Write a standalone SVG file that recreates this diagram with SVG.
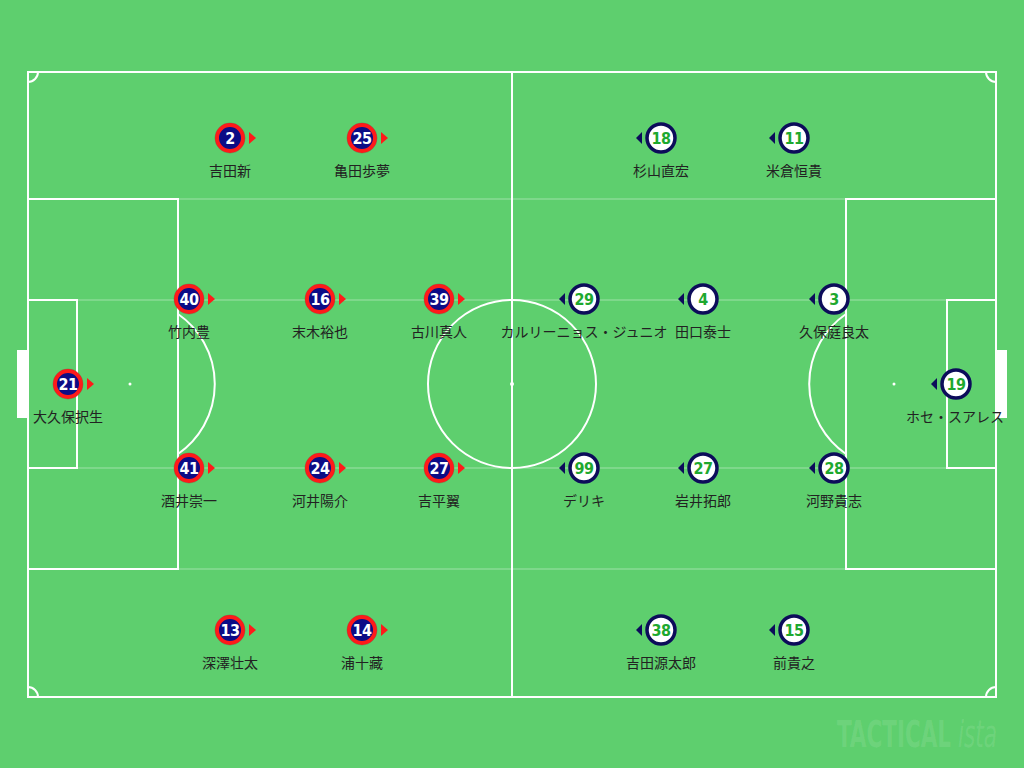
<svg xmlns="http://www.w3.org/2000/svg" width="1024" height="768" viewBox="0 0 1024 768">
<defs>
<style>
.line{fill:none;stroke:#ffffff;stroke-width:2}
.faint{stroke:#ffffff;stroke-opacity:0.2;stroke-width:2}
.name{font-family:"Noto Sans CJK JP","Noto Sans",sans-serif;font-size:14px;fill:#222;text-anchor:middle}
.num{font-family:"DejaVu Sans Condensed","DejaVu Sans",sans-serif;font-stretch:condensed;font-size:16px;font-weight:bold;letter-spacing:-0.5px;text-anchor:middle}
.numR{fill:#ffffff}
.numW{fill:#1ea82e}
.ringR{fill:#0c0c86;stroke:#ff1a1a;stroke-width:4}
.ringW{fill:#ffffff;stroke:#0c0c5a;stroke-width:3.5}
.triR{fill:#ff1a1a}
.triW{fill:#0c0c5a}
.wm{font-family:"DejaVu Sans Condensed","DejaVu Sans",sans-serif;font-stretch:condensed;font-size:38px;fill:#ffffff;fill-opacity:0.1}
</style>
<g id="mR"><circle r="13" class="ringR"/><circle r="15.2" fill="none" stroke="#7a1a30" stroke-opacity="0.35" stroke-width="0.6"/><path class="triR" d="M19,-6 L26,0 L19,6 Z"/></g>
<g id="mW"><circle r="14" class="ringW"/><path class="triW" d="M-19,-6 L-25,0 L-19,6 Z"/></g>
</defs>
<rect width="1024" height="768" fill="#5ecf6e"/>
<g id="pitch">
<line class="faint" x1="28" y1="300" x2="996" y2="300"/>
<line class="faint" x1="28" y1="468" x2="996" y2="468"/>
<line class="faint" x1="28" y1="199" x2="996" y2="199"/>
<line class="faint" x1="28" y1="569" x2="996" y2="569"/>
<rect class="line" x="28" y="72" width="968" height="625"/>
<line class="line" x1="512" y1="72" x2="512" y2="697"/>
<circle class="line" cx="512" cy="384" r="84"/>
<circle cx="512" cy="384" r="2" fill="#fff"/>
<rect class="line" x="28" y="199" width="150" height="370"/>
<rect class="line" x="28" y="300" width="49" height="168"/>
<circle cx="130" cy="384" r="1.5" fill="#fff"/>
<path class="line" d="M178,314 A85,85 0 0 1 178,454"/>
<rect class="line" x="846" y="199" width="150" height="370"/>
<rect class="line" x="947" y="300" width="49" height="168"/>
<circle cx="894" cy="384" r="1.5" fill="#fff"/>
<path class="line" d="M846,314 A85,85 0 0 0 846,454"/>
<rect x="17" y="350" width="11" height="68" fill="#fff"/>
<rect x="996" y="350" width="11" height="68" fill="#fff"/>
<path class="line" d="M28,82 A10,10 0 0 0 38,72"/>
<path class="line" d="M986,72 A10,10 0 0 0 996,82"/>
<path class="line" d="M28,687 A10,10 0 0 1 38,697"/>
<path class="line" d="M986,697 A10,10 0 0 1 996,687"/>
</g>
<g id="connectors"></g>
<g id="p2"><use href="#mR" x="230" y="138"/><text class="num numR" x="230" y="144">2</text><text class="name" x="230" y="176">吉田新</text></g>
<g id="p25"><use href="#mR" x="362" y="138"/><text class="num numR" x="362" y="144">25</text><text class="name" x="362" y="176">亀田歩夢</text></g>
<g id="p40"><use href="#mR" x="189" y="299"/><text class="num numR" x="189" y="305">40</text><text class="name" x="189" y="337">竹内豊</text></g>
<g id="p16"><use href="#mR" x="320" y="299"/><text class="num numR" x="320" y="305">16</text><text class="name" x="320" y="337">末木裕也</text></g>
<g id="p39"><use href="#mR" x="439" y="299"/><text class="num numR" x="439" y="305">39</text><text class="name" x="439" y="337">古川真人</text></g>
<g id="p21"><use href="#mR" x="68" y="384"/><text class="num numR" x="68" y="390">21</text><text class="name" x="68" y="422">大久保択生</text></g>
<g id="p41"><use href="#mR" x="189" y="468"/><text class="num numR" x="189" y="474">41</text><text class="name" x="189" y="506">酒井崇一</text></g>
<g id="p24"><use href="#mR" x="320" y="468"/><text class="num numR" x="320" y="474">24</text><text class="name" x="320" y="506">河井陽介</text></g>
<g id="p27r"><use href="#mR" x="439" y="468"/><text class="num numR" x="439" y="474">27</text><text class="name" x="439" y="506">吉平翼</text></g>
<g id="p13"><use href="#mR" x="230" y="630"/><text class="num numR" x="230" y="636">13</text><text class="name" x="230" y="668">深澤壮太</text></g>
<g id="p14"><use href="#mR" x="362" y="630"/><text class="num numR" x="362" y="636">14</text><text class="name" x="362" y="668">浦十藏</text></g>
<g id="p18"><use href="#mW" x="661" y="138"/><text class="num numW" x="661" y="144">18</text><text class="name" x="661" y="176">杉山直宏</text></g>
<g id="p11"><use href="#mW" x="794" y="138"/><text class="num numW" x="794" y="144">11</text><text class="name" x="794" y="176">米倉恒貴</text></g>
<g id="p29"><use href="#mW" x="584" y="299"/><text class="num numW" x="584" y="305">29</text><text class="name" x="584" y="337">カルリーニョス・ジュニオ</text></g>
<g id="p4"><use href="#mW" x="703" y="299"/><text class="num numW" x="703" y="305">4</text><text class="name" x="703" y="337">田口泰士</text></g>
<g id="p3"><use href="#mW" x="834" y="299"/><text class="num numW" x="834" y="305">3</text><text class="name" x="834" y="337">久保庭良太</text></g>
<g id="p19"><use href="#mW" x="956" y="384"/><text class="num numW" x="956" y="390">19</text><text class="name" x="955" y="422">ホセ・スアレス</text></g>
<g id="p99"><use href="#mW" x="584" y="468"/><text class="num numW" x="584" y="474">99</text><text class="name" x="584" y="506">デリキ</text></g>
<g id="p27w"><use href="#mW" x="703" y="468"/><text class="num numW" x="703" y="474">27</text><text class="name" x="703" y="506">岩井拓郎</text></g>
<g id="p28"><use href="#mW" x="834" y="468"/><text class="num numW" x="834" y="474">28</text><text class="name" x="834" y="506">河野貴志</text></g>
<g id="p38"><use href="#mW" x="661" y="630"/><text class="num numW" x="661" y="636">38</text><text class="name" x="661" y="668">吉田源太郎</text></g>
<g id="p15"><use href="#mW" x="794" y="630"/><text class="num numW" x="794" y="636">15</text><text class="name" x="794" y="668">前貴之</text></g>
<g id="watermark">
<text class="wm" x="837" y="747" font-weight="bold" textLength="114" lengthAdjust="spacingAndGlyphs">TACTICAL</text>
<text class="wm" x="958" y="747" font-style="italic" textLength="39" lengthAdjust="spacingAndGlyphs">ista</text>
</g>
</svg>
